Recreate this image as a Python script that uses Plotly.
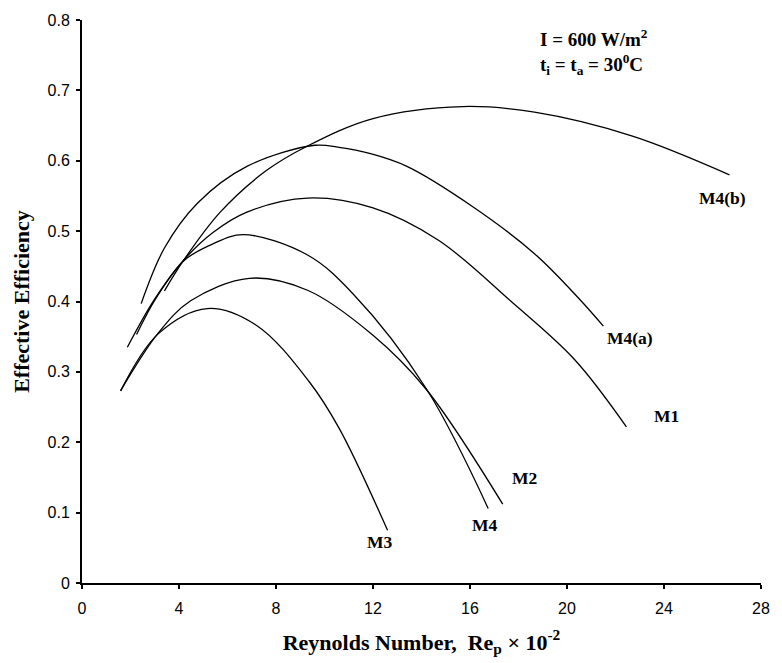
import plotly.graph_objects as go

# Data (x = Reynolds number x 10^-2, y = effective efficiency)
m1_x = [1.87, 2.97, 4.2, 5.4, 6.8, 9.3, 12.0, 14.7, 17.7, 20.3, 22.45]
m1_y = [0.335, 0.402, 0.459, 0.498, 0.527, 0.547, 0.533, 0.487, 0.400, 0.318, 0.222]

m2_x = [1.59, 3.14, 4.48, 6.9, 9.3, 12.0, 14.2, 17.35]
m2_y = [0.273, 0.355, 0.401, 0.433, 0.416, 0.352, 0.275, 0.112]

m3_x = [1.59, 3.14, 5.17, 7.2, 9.37, 10.6, 12.6]
m3_y = [0.273, 0.354, 0.390, 0.366, 0.286, 0.220, 0.075]

m4_x = [2.25, 3.04, 4.2, 5.4, 6.64, 9.3, 11.2, 14.2, 16.75]
m4_y = [0.353, 0.404, 0.458, 0.482, 0.495, 0.466, 0.410, 0.276, 0.106]

m4a_x = [2.44, 3.4, 4.77, 6.8, 9.6, 10.6, 11.9, 13.4, 16.1, 18.66, 20.5, 21.5]
m4a_y = [0.397, 0.476, 0.540, 0.592, 0.622, 0.619, 0.610, 0.592, 0.535, 0.468, 0.404, 0.365]

m4b_x = [3.4, 4.2, 5.7, 7.6, 9.3, 12.0, 15.7, 18.66, 22.7, 26.7]
m4b_y = [0.415, 0.459, 0.527, 0.586, 0.621, 0.660, 0.677, 0.669, 0.635, 0.580]

series = [
    ("M1", m1_x, m1_y, 24.1, 0.238),
    ("M2", m2_x, m2_y, 18.26, 0.149),
    ("M3", m3_x, m3_y, 12.3, 0.058),
    ("M4", m4_x, m4_y, 16.6, 0.082),
    ("M4(a)", m4a_x, m4a_y, 22.6, 0.348),
    ("M4(b)", m4b_x, m4b_y, 26.4, 0.547),
]

x_ticks = [0, 4, 8, 12, 16, 20, 24, 28]
y_ticks = [0, 0.1, 0.2, 0.3, 0.4, 0.5, 0.6, 0.7, 0.8]
y_tick_text = ["0", "0.1", "0.2", "0.3", "0.4", "0.5", "0.6", "0.7", "0.8"]

fig = go.Figure()
annotations = []
serif = "Liberation Serif, Times New Roman, serif"
label_font = dict(family=serif, size=17.5, color="black")
for name, xs, ys, lx, ly in series:
    fig.add_trace(go.Scatter(x=xs, y=ys, mode="lines", name=name,
                             line=dict(color="black", width=1.3, shape="spline", smoothing=1.0),
                             showlegend=False, hoverinfo="skip"))
    annotations.append(dict(x=lx, y=ly, xref="x", yref="y", text="<b>%s</b>" % name,
                            showarrow=False, font=label_font))

annotations.append(dict(x=0.671, y=0.9435, xref="paper", yref="paper", xanchor="left", yanchor="middle",
                        align="left",
                        text="<b>I = 600 W/m<sup>2</sup></b><br><b>t<sub>i</sub> = t<sub>a</sub> = 30<sup>0</sup>C</b>",
                        showarrow=False, font=dict(family=serif, size=19, color="black")))

axis_font = dict(family="Liberation Sans, Arial, sans-serif", size=16, color="black")
title_font = dict(family=serif, size=22, color="black")

fig.update_layout(
    width=782, height=663,
    margin=dict(l=82, r=13, t=14, b=74),
    paper_bgcolor="white", plot_bgcolor="white",
    annotations=annotations,
    xaxis=dict(range=[0, 28], tickvals=x_ticks, ticktext=[str(v) for v in x_ticks],
               showline=True, linecolor="black", linewidth=2, ticks="outside", ticklen=4,
               tickwidth=2, tickcolor="black", showgrid=False, zeroline=False, tickfont=axis_font,
               ticklabelstandoff=6,
               title=dict(text="<b>Reynolds Number,  Re<sub>p</sub> × 10<sup>-2</sup></b>",
                          font=title_font, standoff=18)),
    yaxis=dict(range=[0, 0.8], tickvals=y_ticks, ticktext=y_tick_text,
               showline=True, linecolor="black", linewidth=2, ticks="outside", ticklen=4,
               tickwidth=2, tickcolor="black", showgrid=False, zeroline=False, tickfont=axis_font,
               ticklabelstandoff=3,
               title=dict(text="<b>Effective Efficiency</b>", font=title_font, standoff=12)),
)

fig.write_html("out.html",
               config={"displayModeBar": False, "staticPlot": True},
               post_script="document.body.style.margin='0';document.body.style.overflow='hidden';")
